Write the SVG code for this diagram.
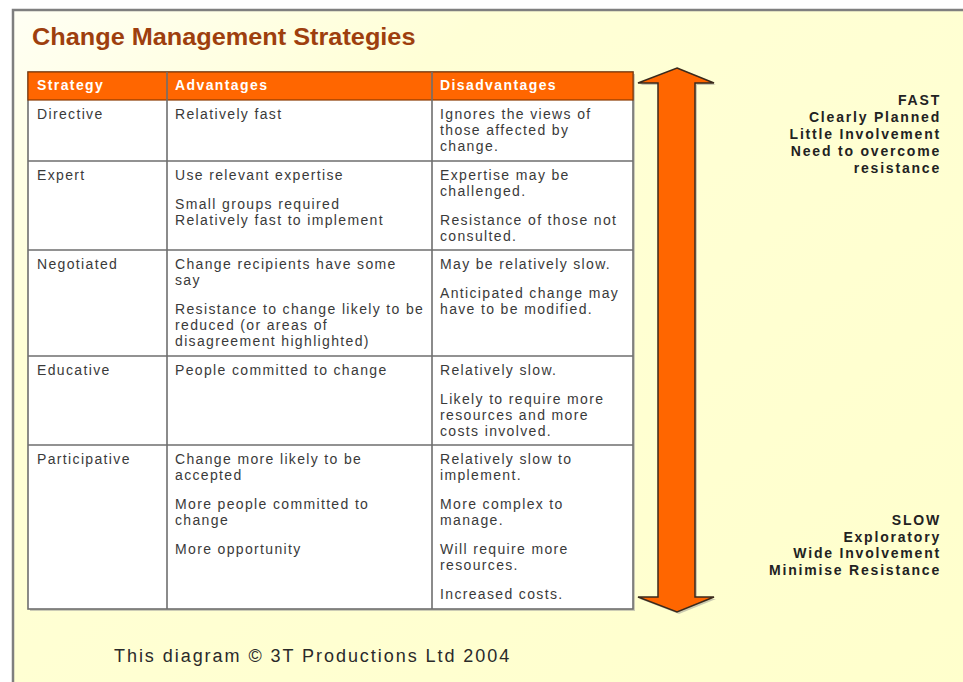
<svg xmlns="http://www.w3.org/2000/svg" width="963" height="682" viewBox="0 0 963 682">
<defs>
<linearGradient id="bg" x1="0" y1="0" x2="1" y2="1">
<stop offset="0" stop-color="#FFFFF4"/>
<stop offset="0.25" stop-color="#FFFFD6"/>
<stop offset="1" stop-color="#FFFFCC"/>
</linearGradient>
<style>
.cell{font-family:"Liberation Sans",Arial,sans-serif;font-size:14px;letter-spacing:1.35px;fill:#3a3a3a}
.hd{font-family:"Liberation Sans",Arial,sans-serif;font-size:14px;font-weight:bold;letter-spacing:1.4px;fill:#ffffff}
.side{font-family:"Liberation Sans",Arial,sans-serif;font-size:14px;font-weight:bold;letter-spacing:1.8px;fill:#222222;text-anchor:end}
.line{stroke:#6e6e6e;stroke-width:1.6;fill:none}
</style>
</defs>
<rect x="0" y="0" width="963" height="682" fill="#ffffff"/>
<rect x="13" y="10" width="960" height="690" fill="url(#bg)" stroke="#7f7f7f" stroke-width="2.5"/>
<text transform="translate(32,45) scale(1.1,1)" x="0" y="0" font-family="'Liberation Sans',Arial,sans-serif" font-size="23" font-weight="bold" fill="#9E3F0E">Change Management Strategies</text>

<g id="table">
<rect x="30" y="74" width="605" height="537" fill="#9a9a9a" opacity="0.5"/>
<rect x="28" y="72" width="605" height="537" fill="#ffffff" stroke="#6e6e6e" stroke-width="1.6"/>
<rect x="28" y="72" width="605" height="28" fill="#FF6600" stroke="#8a3a00" stroke-width="1.2"/>
<line class="line" x1="167" y1="72" x2="167" y2="609"/>
<line class="line" x1="432" y1="72" x2="432" y2="609"/>
<line class="line" x1="28" y1="161" x2="633" y2="161"/>
<line class="line" x1="28" y1="250" x2="633" y2="250"/>
<line class="line" x1="28" y1="356" x2="633" y2="356"/>
<line class="line" x1="28" y1="445" x2="633" y2="445"/>
</g>

<g id="header">
<text class="hd" x="37" y="90">Strategy</text>
<text class="hd" x="175" y="90">Advantages</text>
<text class="hd" x="440" y="90">Disadvantages</text>
</g>

<g id="row-directive">
<text class="cell" x="37" y="119">Directive</text>
<text class="cell" x="175" y="119">Relatively fast</text>
<text class="cell" x="440" y="119">Ignores the views of</text>
<text class="cell" x="440" y="135">those affected by</text>
<text class="cell" x="440" y="151">change.</text>
</g>

<g id="row-expert">
<text class="cell" x="37" y="180">Expert</text>
<text class="cell" x="175" y="180">Use relevant expertise</text>
<text class="cell" x="175" y="209">Small groups required</text>
<text class="cell" x="175" y="225">Relatively fast to implement</text>
<text class="cell" x="440" y="180">Expertise may be</text>
<text class="cell" x="440" y="196">challenged.</text>
<text class="cell" x="440" y="225">Resistance of those not</text>
<text class="cell" x="440" y="241">consulted.</text>
</g>

<g id="row-negotiated">
<text class="cell" x="37" y="269">Negotiated</text>
<text class="cell" x="175" y="269">Change recipients have some</text>
<text class="cell" x="175" y="285">say</text>
<text class="cell" x="175" y="314">Resistance to change likely to be</text>
<text class="cell" x="175" y="330">reduced (or areas of</text>
<text class="cell" x="175" y="346">disagreement highlighted)</text>
<text class="cell" x="440" y="269">May be relatively slow.</text>
<text class="cell" x="440" y="298">Anticipated change may</text>
<text class="cell" x="440" y="314">have to be modified.</text>
</g>

<g id="row-educative">
<text class="cell" x="37" y="375">Educative</text>
<text class="cell" x="175" y="375">People committed to change</text>
<text class="cell" x="440" y="375">Relatively slow.</text>
<text class="cell" x="440" y="404">Likely to require more</text>
<text class="cell" x="440" y="420">resources and more</text>
<text class="cell" x="440" y="436">costs involved.</text>
</g>

<g id="row-participative">
<text class="cell" x="37" y="464">Participative</text>
<text class="cell" x="175" y="464">Change more likely to be</text>
<text class="cell" x="175" y="480">accepted</text>
<text class="cell" x="175" y="509">More people committed to</text>
<text class="cell" x="175" y="525">change</text>
<text class="cell" x="175" y="554">More opportunity</text>
<text class="cell" x="440" y="464">Relatively slow to</text>
<text class="cell" x="440" y="480">implement.</text>
<text class="cell" x="440" y="509">More complex to</text>
<text class="cell" x="440" y="525">manage.</text>
<text class="cell" x="440" y="554">Will require more</text>
<text class="cell" x="440" y="570">resources.</text>
<text class="cell" x="440" y="599">Increased costs.</text>
</g>

<g id="connectors">
<polygon points="679,70 716,85 697,85 697,599 716,599 679,614 640,599 660,599 660,85 640,85" fill="#8a8a8a" opacity="0.45"/>
<polygon points="677,68 714,83 695,83 695,597 714,597 677,612 638,597 658,597 658,83 638,83" fill="#FF6600" stroke="#3b2a1c" stroke-width="1.5" stroke-linejoin="miter"/>
</g>

<g id="fast-label">
<text class="side" x="941" y="105">FAST</text>
<text class="side" x="941" y="122">Clearly Planned</text>
<text class="side" x="941" y="139">Little Involvement</text>
<text class="side" x="941" y="156">Need to overcome</text>
<text class="side" x="941" y="173">resistance</text>
</g>

<g id="slow-label">
<text class="side" x="941" y="525">SLOW</text>
<text class="side" x="941" y="542">Exploratory</text>
<text class="side" x="941" y="558">Wide Involvement</text>
<text class="side" x="941" y="575">Minimise Resistance</text>
</g>

<text x="114" y="662" font-family="'Liberation Sans',Arial,sans-serif" font-size="18" letter-spacing="1.95" fill="#2a2a2a">This diagram © 3T Productions Ltd 2004</text>
</svg>
